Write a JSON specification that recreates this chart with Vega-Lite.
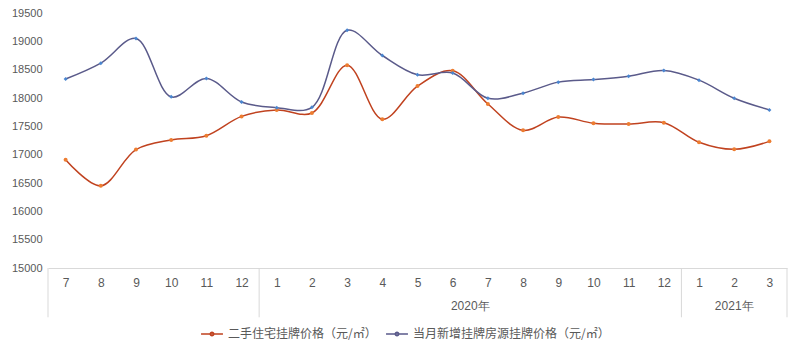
{
  "$schema": "https://vega.github.io/schema/vega-lite/v6.json",
  "width": 739,
  "height": 255,
  "autosize": "none",
  "padding": {"left": 48, "top": 13, "right": 13, "bottom": 84},
  "background": "white",
  "config": {
    "view": {"stroke": null},
    "font": "Liberation Sans",
    "axis": {"labelFont": "Liberation Sans", "labelColor": "#595959", "labelOverlap": false, "labelFlush": false, "ticks": false, "grid": false, "title": null},
    "axisX": {"domainColor": "#D9D9D9", "domainWidth": 1, "labelPadding": 9, "labelFontSize": 12},
    "axisY": {"domain": false, "labelPadding": 6, "labelFontSize": 11}
  },
  "layer": [
    {
      "data": {"values": [
        {"t": 0, "series": "二手住宅挂牌价格（元/㎡）", "price": 16910},
        {"t": 1, "series": "二手住宅挂牌价格（元/㎡）", "price": 16450},
        {"t": 2, "series": "二手住宅挂牌价格（元/㎡）", "price": 17090},
        {"t": 3, "series": "二手住宅挂牌价格（元/㎡）", "price": 17260},
        {"t": 4, "series": "二手住宅挂牌价格（元/㎡）", "price": 17335},
        {"t": 5, "series": "二手住宅挂牌价格（元/㎡）", "price": 17675},
        {"t": 6, "series": "二手住宅挂牌价格（元/㎡）", "price": 17790},
        {"t": 7, "series": "二手住宅挂牌价格（元/㎡）", "price": 17735},
        {"t": 8, "series": "二手住宅挂牌价格（元/㎡）", "price": 18580},
        {"t": 9, "series": "二手住宅挂牌价格（元/㎡）", "price": 17625},
        {"t": 10, "series": "二手住宅挂牌价格（元/㎡）", "price": 18210},
        {"t": 11, "series": "二手住宅挂牌价格（元/㎡）", "price": 18480},
        {"t": 12, "series": "二手住宅挂牌价格（元/㎡）", "price": 17895},
        {"t": 13, "series": "二手住宅挂牌价格（元/㎡）", "price": 17430},
        {"t": 14, "series": "二手住宅挂牌价格（元/㎡）", "price": 17665},
        {"t": 15, "series": "二手住宅挂牌价格（元/㎡）", "price": 17555},
        {"t": 16, "series": "二手住宅挂牌价格（元/㎡）", "price": 17540},
        {"t": 17, "series": "二手住宅挂牌价格（元/㎡）", "price": 17565},
        {"t": 18, "series": "二手住宅挂牌价格（元/㎡）", "price": 17220},
        {"t": 19, "series": "二手住宅挂牌价格（元/㎡）", "price": 17095},
        {"t": 20, "series": "二手住宅挂牌价格（元/㎡）", "price": 17235},
        {"t": 0, "series": "当月新增挂牌房源挂牌价格（元/㎡）", "price": 18335},
        {"t": 1, "series": "当月新增挂牌房源挂牌价格（元/㎡）", "price": 18615},
        {"t": 2, "series": "当月新增挂牌房源挂牌价格（元/㎡）", "price": 19050},
        {"t": 3, "series": "当月新增挂牌房源挂牌价格（元/㎡）", "price": 18020},
        {"t": 4, "series": "当月新增挂牌房源挂牌价格（元/㎡）", "price": 18345},
        {"t": 5, "series": "当月新增挂牌房源挂牌价格（元/㎡）", "price": 17930},
        {"t": 6, "series": "当月新增挂牌房源挂牌价格（元/㎡）", "price": 17830},
        {"t": 7, "series": "当月新增挂牌房源挂牌价格（元/㎡）", "price": 17835},
        {"t": 8, "series": "当月新增挂牌房源挂牌价格（元/㎡）", "price": 19195},
        {"t": 9, "series": "当月新增挂牌房源挂牌价格（元/㎡）", "price": 18750},
        {"t": 10, "series": "当月新增挂牌房源挂牌价格（元/㎡）", "price": 18410},
        {"t": 11, "series": "当月新增挂牌房源挂牌价格（元/㎡）", "price": 18440},
        {"t": 12, "series": "当月新增挂牌房源挂牌价格（元/㎡）", "price": 17995},
        {"t": 13, "series": "当月新增挂牌房源挂牌价格（元/㎡）", "price": 18085},
        {"t": 14, "series": "当月新增挂牌房源挂牌价格（元/㎡）", "price": 18280},
        {"t": 15, "series": "当月新增挂牌房源挂牌价格（元/㎡）", "price": 18325},
        {"t": 16, "series": "当月新增挂牌房源挂牌价格（元/㎡）", "price": 18385},
        {"t": 17, "series": "当月新增挂牌房源挂牌价格（元/㎡）", "price": 18485},
        {"t": 18, "series": "当月新增挂牌房源挂牌价格（元/㎡）", "price": 18315},
        {"t": 19, "series": "当月新增挂牌房源挂牌价格（元/㎡）", "price": 17995},
        {"t": 20, "series": "当月新增挂牌房源挂牌价格（元/㎡）", "price": 17790}
      ]},
      "encoding": {
        "x": {
          "field": "t", "type": "quantitative",
          "scale": {"domain": [-0.5, 20.5], "nice": false, "zero": false},
          "axis": {
            "values": [0,1,2,3,4,5,6,7,8,9,10,11,12,13,14,15,16,17,18,19,20],
            "labelExpr": "['7','8','9','10','11','12','1','2','3','4','5','6','7','8','9','10','11','12','1','2','3'][datum.value]"
          }
        },
        "y": {
          "field": "price", "type": "quantitative",
          "scale": {"domain": [15000, 19500], "nice": false, "zero": false},
          "axis": {"values": [15000,15500,16000,16500,17000,17500,18000,18500,19000,19500], "format": "d"}
        }
      },
      "layer": [
        {
          "mark": {"type": "line", "interpolate": "catmull-rom", "strokeWidth": 1.5},
          "encoding": {
            "color": {
              "field": "series", "type": "nominal",
              "sort": ["二手住宅挂牌价格（元/㎡）", "当月新增挂牌房源挂牌价格（元/㎡）"],
              "scale": {"range": ["#C0421F", "#5A5A8A"]},
              "legend": {
                "title": null, "orient": "none", "direction": "horizontal",
                "legendX": 152, "legendY": 309,
                "labelFontSize": 12, "labelColor": "#595959", "labelFont": "Noto Sans CJK SC", "labelLimit": 0,
                "symbolType": "M-1,0H1M-0.16,0A0.16,0.16 0 1,0 0.16,0A0.16,0.16 0 1,0 -0.16,0",
                "symbolSize": 480, "symbolStrokeWidth": 1.5, "columnPadding": 6, "labelOffset": 4
              }
            }
          }
        },
        {
          "mark": {"type": "point", "filled": true, "size": 16, "opacity": 1},
          "encoding": {
            "fill": {
              "field": "series", "type": "nominal",
              "sort": ["二手住宅挂牌价格（元/㎡）", "当月新增挂牌房源挂牌价格（元/㎡）"],
              "scale": {"range": ["#ED7D31", "#4A86D0"]},
              "legend": null
            },
            "shape": {
              "field": "series", "type": "nominal",
              "sort": ["二手住宅挂牌价格（元/㎡）", "当月新增挂牌房源挂牌价格（元/㎡）"],
              "scale": {"range": ["circle", "diamond"]},
              "legend": null
            }
          }
        }
      ]
    },
    {
      "data": {"values": [{"pos": -0.5}, {"pos": 5.5}, {"pos": 17.5}, {"pos": 20.5}]},
      "mark": {"type": "rule", "color": "#D9D9D9", "strokeWidth": 1, "clip": false},
      "encoding": {
        "x": {
          "field": "pos", "type": "quantitative",
          "axis": {
            "values": [0,1,2,3,4,5,6,7,8,9,10,11,12,13,14,15,16,17,18,19,20],
            "labelExpr": "['7','8','9','10','11','12','1','2','3','4','5','6','7','8','9','10','11','12','1','2','3'][datum.value]"
          }
        },
        "y": {
          "datum": 15000, "type": "quantitative",
          "axis": {"values": [15000,15500,16000,16500,17000,17500,18000,18500,19000,19500], "format": "d"}
        },
        "y2": {"datum": 14130}
      }
    },
    {
      "data": {"values": [{"c": 11.5, "year": "2020年"}, {"c": 19, "year": "2021年"}]},
      "mark": {"type": "text", "fontSize": 12, "color": "#595959", "font": "Liberation Sans", "baseline": "middle", "dy": 38, "clip": false},
      "encoding": {
        "x": {
          "field": "c", "type": "quantitative",
          "axis": {
            "values": [0,1,2,3,4,5,6,7,8,9,10,11,12,13,14,15,16,17,18,19,20],
            "labelExpr": "['7','8','9','10','11','12','1','2','3','4','5','6','7','8','9','10','11','12','1','2','3'][datum.value]"
          }
        },
        "y": {
          "datum": 15000, "type": "quantitative",
          "axis": {"values": [15000,15500,16000,16500,17000,17500,18000,18500,19000,19500], "format": "d"}
        },
        "text": {"field": "year"}
      }
    }
  ],
  "resolve": {"scale": {"color": "independent"}}
}
